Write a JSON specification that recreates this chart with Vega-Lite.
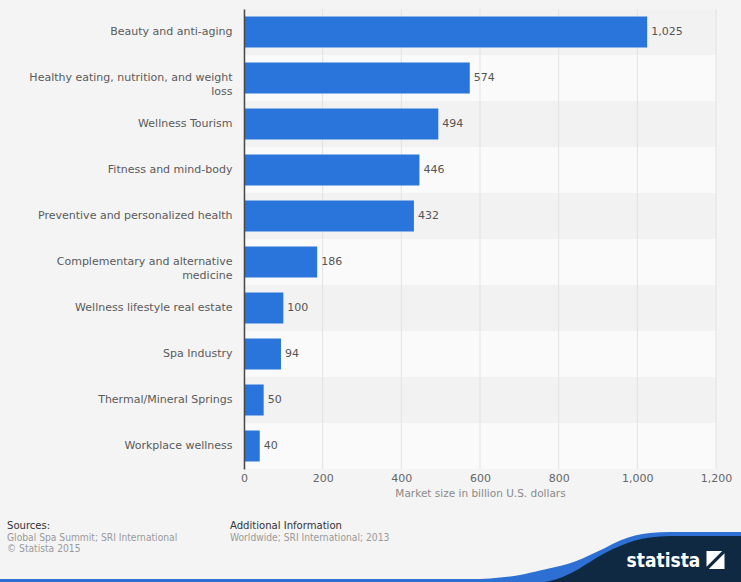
{
  "$schema": "https://vega.github.io/schema/vega-lite/v6.json",
  "background": "#f4f4f4",
  "padding": {"left": 0, "top": 8, "right": 0, "bottom": 0},
  "spacing": 6,
  "config": {
    "view": {"stroke": null},
    "font": "DejaVu Sans",
    "concat": {"spacing": 6}
  },
  "vconcat": [
    {
      "width": 472,
      "height": 460,
      "data": {
        "values": [
          {"segment": "Beauty and anti-aging", "value": 1025},
          {"segment": "Healthy eating, nutrition, and weight loss", "value": 574},
          {"segment": "Wellness Tourism", "value": 494},
          {"segment": "Fitness and mind-body", "value": 446},
          {"segment": "Preventive and personalized health", "value": 432},
          {"segment": "Complementary and alternative medicine", "value": 186},
          {"segment": "Wellness lifestyle real estate", "value": 100},
          {"segment": "Spa Industry", "value": 94},
          {"segment": "Thermal/Mineral Springs", "value": 50},
          {"segment": "Workplace wellness", "value": 40}
        ]
      },
      "transform": [{"window": [{"op": "row_number", "as": "row"}]}],
      "layer": [
        {
          "mark": {"type": "rect"},
          "encoding": {
            "y": {
              "field": "segment",
              "type": "nominal",
              "sort": null,
              "scale": {"paddingInner": 0, "paddingOuter": 0},
              "axis": null
            },
            "x": {"value": 0},
            "x2": {"value": "width"},
            "color": {
              "condition": {"test": "datum.row % 2 === 1", "value": "#f2f2f2"},
              "value": "#fafafa"
            }
          }
        },
        {
          "data": {
            "values": [
              {"tick": 0}, {"tick": 200}, {"tick": 400}, {"tick": 600},
              {"tick": 800}, {"tick": 1000}, {"tick": 1200}
            ]
          },
          "mark": {"type": "rule", "color": "#e2e2e2", "strokeWidth": 1},
          "encoding": {
            "x": {
              "field": "tick",
              "type": "quantitative",
              "scale": {"domain": [0, 1200], "nice": false},
              "axis": {
                "title": "Market size in billion U.S. dollars",
                "values": [0, 200, 400, 600, 800, 1000, 1200],
                "format": ",.0f",
                "grid": false,
                "ticks": false,
                "domain": false,
                "labelFlush": false,
                "labelPadding": 3,
                "labelFontSize": 11,
                "labelColor": "#666666",
                "titleFontSize": 10.5,
                "titleFontWeight": "normal",
                "titleColor": "#8a8a8a",
                "titlePadding": 5
              }
            }
          }
        },
        {
          "encoding": {
            "y": {
              "field": "segment",
              "type": "nominal",
              "sort": null,
              "scale": {"paddingInner": 0.326, "paddingOuter": 0.163},
              "axis": {
                "title": null,
                "ticks": false,
                "domainColor": "#4a4a4a",
                "domainWidth": 1.5,
                "labelPadding": 12,
                "labelFontSize": 11,
                "labelColor": "#5a5a5a",
                "labelLimit": 400,
                "labelLineHeight": 14,
                "minExtent": 244,
                "maxExtent": 244,
                "zindex": 1,
                "labelExpr": "datum.label === 'Healthy eating, nutrition, and weight loss' ? ['Healthy eating, nutrition, and weight', 'loss'] : datum.label === 'Complementary and alternative medicine' ? ['Complementary and alternative', 'medicine'] : datum.label"
              }
            },
            "x": {
              "field": "value",
              "type": "quantitative",
              "scale": {"domain": [0, 1200], "nice": false},
              "axis": {
                "title": "Market size in billion U.S. dollars",
                "values": [0, 200, 400, 600, 800, 1000, 1200],
                "format": ",.0f",
                "grid": false,
                "ticks": false,
                "domain": false,
                "labelFlush": false,
                "labelPadding": 3,
                "labelFontSize": 11,
                "labelColor": "#666666",
                "titleFontSize": 10.5,
                "titleFontWeight": "normal",
                "titleColor": "#8a8a8a",
                "titlePadding": 5
              }
            }
          },
          "layer": [
            {"mark": {"type": "bar", "color": "#2a75dc"}},
            {
              "mark": {
                "type": "text",
                "align": "left",
                "baseline": "middle",
                "dx": 4,
                "fontSize": 11,
                "color": "#555555"
              },
              "encoding": {"text": {"field": "value", "format": ","}}
            }
          ]
        }
      ],
      "resolve": {"scale": {"y": "independent"}}
    },
    {
      "width": 497,
      "height": 77,
      "layer": [
        {
          "data": {
            "values": [
              {"x": 0, "y": 579}, {"x": 480, "y": 579}, {"x": 500, "y": 577.5},
              {"x": 520, "y": 575}, {"x": 540, "y": 570.5}, {"x": 560, "y": 566},
              {"x": 575, "y": 561.5}, {"x": 590, "y": 555}, {"x": 605, "y": 548},
              {"x": 620, "y": 540.5}, {"x": 635, "y": 535.5}, {"x": 650, "y": 533},
              {"x": 670, "y": 532}, {"x": 741, "y": 532}
            ]
          },
          "mark": {"type": "area", "color": "#2d6fd2", "interpolate": "monotone"},
          "encoding": {
            "x": {"field": "x", "type": "quantitative", "scale": {"domain": [0, 741], "range": [-244, 497], "nice": false, "zero": false}, "axis": null},
            "y": {"field": "y", "type": "quantitative", "scale": {"domain": [582, 505], "nice": false, "zero": false}, "axis": null},
            "y2": {"datum": 582}
          }
        },
        {
          "data": {
            "values": [
              {"x": 545, "y": 582}, {"x": 560, "y": 578}, {"x": 575, "y": 571},
              {"x": 590, "y": 562}, {"x": 605, "y": 553}, {"x": 620, "y": 546},
              {"x": 635, "y": 540.5}, {"x": 650, "y": 537.5}, {"x": 670, "y": 536},
              {"x": 741, "y": 536}
            ]
          },
          "mark": {"type": "area", "color": "#0e2941", "interpolate": "monotone"},
          "encoding": {
            "x": {"field": "x", "type": "quantitative", "scale": {"domain": [0, 741], "range": [-244, 497], "nice": false, "zero": false}, "axis": null},
            "y": {"field": "y", "type": "quantitative", "scale": {"domain": [582, 505], "nice": false, "zero": false}, "axis": null},
            "y2": {"datum": 582}
          }
        },
        {
          "data": {
            "values": [
              {"col": "sources", "part": "head", "text": "Sources:"},
              {"col": "sources", "part": "body", "text": "Global Spa Summit; SRI International\n© Statista 2015"},
              {"col": "info", "part": "head", "text": "Additional Information"},
              {"col": "info", "part": "body", "text": "Worldwide; SRI International; 2013"}
            ]
          },
          "mark": {
            "type": "text",
            "align": "left",
            "baseline": "alphabetic",
            "font": "DejaVu Sans Condensed, Liberation Sans Narrow, DejaVu Sans",
            "lineBreak": "\n",
            "lineHeight": 10.5
          },
          "encoding": {
            "x": {"field": "col", "type": "nominal", "scale": {"type": "point", "domain": ["sources", "info"], "range": [-237, -14], "padding": 0}, "axis": null},
            "y": {"field": "part", "type": "nominal", "scale": {"type": "point", "domain": ["head", "body"], "range": [24, 36], "padding": 0}, "axis": null},
            "text": {"field": "text"},
            "color": {"condition": {"test": "datum.part === 'head'", "value": "#333333"}, "value": "#9a9a9a"},
            "size": {"condition": {"test": "datum.part === 'head'", "value": 11.2}, "value": 10.2}
          }
        },
        {
          "data": {"values": [{"item": "word", "label": "statista"}, {"item": "icon", "label": ""}]},
          "transform": [{"filter": "datum.item === 'word'"}],
          "mark": {
            "type": "text",
            "align": "center",
            "baseline": "alphabetic",
            "font": "DejaVu Sans Condensed, Liberation Sans Narrow, DejaVu Sans",
            "fontWeight": "bold",
            "fontSize": 19,
            "color": "#ffffff"
          },
          "encoding": {
            "x": {"field": "item", "type": "nominal", "scale": {"type": "point", "domain": ["word", "icon"], "range": [419.5, 471.5], "padding": 0}, "axis": null},
            "y": {"field": "item", "type": "nominal", "scale": {"type": "point", "domain": ["word", "icon"], "range": [61.5, 55], "padding": 0}, "axis": null},
            "text": {"field": "label"}
          }
        },
        {
          "data": {"values": [{"item": "word", "label": "statista"}, {"item": "icon", "label": ""}]},
          "transform": [{"filter": "datum.item === 'icon'"}],
          "mark": {
            "type": "point",
            "filled": true,
            "opacity": 1,
            "color": "#ffffff",
            "size": 324,
            "shape": "M-1,-1L0.75,-1L-1,0.75Z M1,1L-0.75,1L1,-0.75Z"
          },
          "encoding": {
            "x": {"field": "item", "type": "nominal", "scale": {"type": "point", "domain": ["word", "icon"], "range": [419.5, 471.5], "padding": 0}, "axis": null},
            "y": {"field": "item", "type": "nominal", "scale": {"type": "point", "domain": ["word", "icon"], "range": [61.5, 55], "padding": 0}, "axis": null}
          }
        }
      ],
      "resolve": {"scale": {"x": "independent", "y": "independent"}}
    }
  ]
}
